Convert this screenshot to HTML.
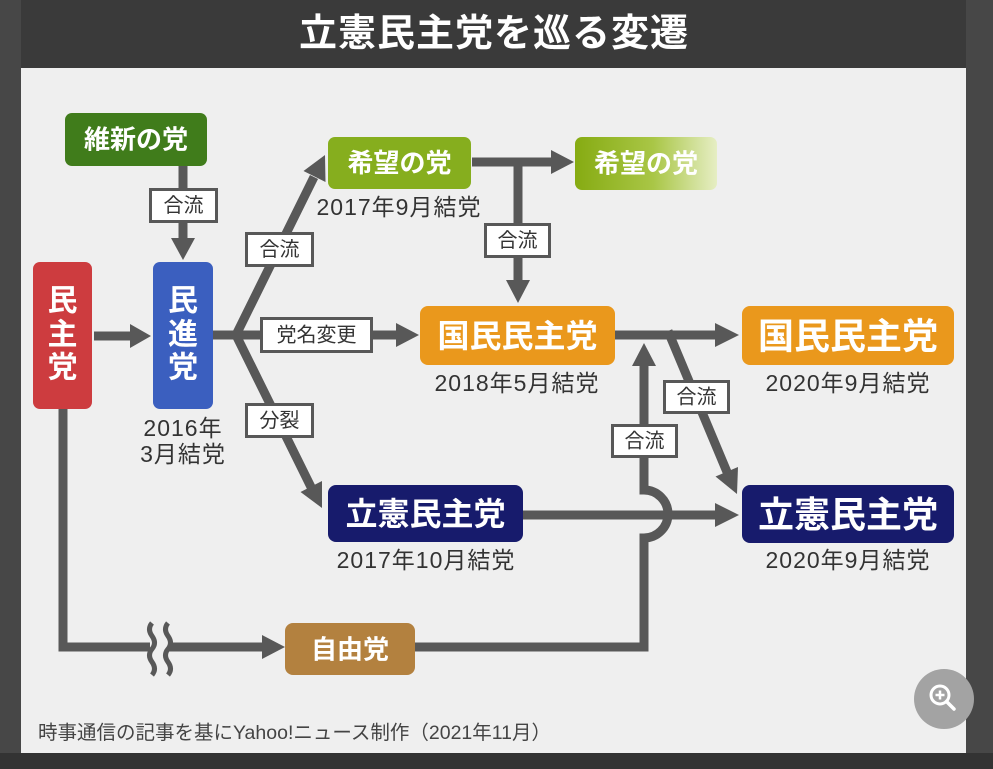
<!DOCTYPE html>
<html><head><meta charset="utf-8">
<style>
html,body{margin:0;padding:0;background:#474747;}
body{width:993px;height:769px;overflow:hidden;}
svg{display:block;}
text{font-family:"Liberation Sans","Noto Sans CJK JP",sans-serif;}
.nt{fill:#fff;font-weight:bold;text-anchor:middle;dominant-baseline:central;}
.dt{fill:#333;font-size:23px;letter-spacing:1px;text-anchor:middle;dominant-baseline:central;}
.lb{fill:#333;font-size:20px;text-anchor:middle;dominant-baseline:central;}
.bx{fill:#fff;stroke:#585858;stroke-width:3;}
.ln{stroke:#585858;stroke-width:9;fill:none;}
.ah{fill:#585858;}
</style></head>
<body>
<svg width="993" height="769" viewBox="0 0 993 769" xmlns="http://www.w3.org/2000/svg">
<defs>
<linearGradient id="kg" x1="0" y1="0" x2="1" y2="0">
<stop offset="0" stop-color="#86ab12"/>
<stop offset="0.55" stop-color="#a9c646"/>
<stop offset="1" stop-color="#e6eec4"/>
</linearGradient>
</defs>
<!-- background -->
<rect x="0" y="0" width="993" height="769" fill="#474747"/>
<rect x="21" y="0" width="945" height="68" fill="#3a3a3a"/>
<rect x="21" y="68" width="945" height="685" fill="#efefef"/>
<rect x="0" y="753" width="993" height="16" fill="#333"/>
<text x="494" y="34" class="nt" style="font-size:38px;letter-spacing:1px">立憲民主党を巡る変遷</text>

<!-- connectors -->
<line class="ln" x1="183" y1="165" x2="183" y2="240"/>
<polygon class="ah" points="171,238 195,238 183,260"/>
<line class="ln" x1="94" y1="336" x2="132" y2="336"/>
<polygon class="ah" points="130,324 130,348 151,336"/>
<line class="ln" x1="213" y1="335" x2="240" y2="335"/>
<polyline class="ln" points="314,177 236,335 311,487" stroke-linejoin="miter"/>
<polygon class="ah" points="325,155 325.5,182 303.5,171"/>
<polygon class="ah" points="322,508 322,481 300.5,492"/>
<line class="ln" x1="236" y1="335" x2="398" y2="335"/>
<polygon class="ah" points="396,323 396,347 419,335"/>
<line class="ln" x1="472" y1="162" x2="553" y2="162"/>
<polygon class="ah" points="551,150 551,174 574,162"/>
<line class="ln" x1="518" y1="162" x2="518" y2="282"/>
<polygon class="ah" points="506,280 530,280 518,303"/>
<line class="ln" x1="614" y1="335" x2="717" y2="335"/>
<polygon class="ah" points="715,323 715,347 739,335"/>
<line class="ln" x1="668" y1="331" x2="727" y2="472"/>
<polygon class="ah" points="737,494 738,467 715.5,476.5"/>
<line class="ln" x1="522" y1="515" x2="717" y2="515"/>
<polygon class="ah" points="715,503 715,527 739,515"/>
<polyline class="ln" points="63,409 63,647 150,647"/>
<line class="ln" x1="168" y1="647" x2="264" y2="647"/>
<polygon class="ah" points="262,635 262,659 285,647"/>
<path d="M152,623 q-5,6 0,13 t0,13 t0,13 t0,13" stroke="#585858" stroke-width="5" fill="none"/>
<path d="M168,623 q-5,6 0,13 t0,13 t0,13 t0,13" stroke="#585858" stroke-width="5" fill="none"/>
<path class="ln" d="M414,647 L644,647 L644,538 A24,24 0 0 0 644,490 L644,366"/>
<polygon class="ah" points="632,366 656,366 644,343"/>

<!-- label boxes -->
<rect class="bx" x="150.5" y="189.5" width="66" height="32"/>
<text class="lb" x="183.5" y="206">合流</text>
<rect class="bx" x="246.5" y="233.5" width="66" height="32"/>
<text class="lb" x="279.5" y="250">合流</text>
<rect class="bx" x="261.5" y="318.5" width="110" height="33"/>
<text class="lb" x="316.5" y="335.5">党名変更</text>
<rect class="bx" x="246.5" y="404.5" width="66" height="32"/>
<text class="lb" x="279.5" y="421">分裂</text>
<rect class="bx" x="485.5" y="224.5" width="64" height="32"/>
<text class="lb" x="517.5" y="241">合流</text>
<rect class="bx" x="664.5" y="381.5" width="64" height="31"/>
<text class="lb" x="696.5" y="397.5">合流</text>
<rect class="bx" x="612.5" y="425.5" width="64" height="31"/>
<text class="lb" x="644.5" y="441.5">合流</text>

<!-- nodes -->
<rect x="65" y="113" width="142" height="53" rx="7" fill="#407c1b"/>
<text class="nt" x="136" y="139.5" style="font-size:26px">維新の党</text>

<rect x="328" y="137" width="143" height="52" rx="7" fill="#86ae1e"/>
<text class="nt" x="399.5" y="163" style="font-size:26px">希望の党</text>
<text class="dt" x="399" y="207">2017年9月結党</text>

<rect x="575" y="137" width="142" height="53" rx="7" fill="url(#kg)"/>
<text class="nt" x="646" y="163.5" style="font-size:26px">希望の党</text>

<rect x="33" y="262" width="59" height="147" rx="7" fill="#cd3c3f"/>
<text class="nt" x="62.5" y="301" style="font-size:30px">民</text>
<text class="nt" x="62.5" y="335" style="font-size:30px">主</text>
<text class="nt" x="62.5" y="368" style="font-size:30px">党</text>

<rect x="153" y="262" width="60" height="147" rx="7" fill="#3b5fbf"/>
<text class="nt" x="183" y="301" style="font-size:30px">民</text>
<text class="nt" x="183" y="335" style="font-size:30px">進</text>
<text class="nt" x="183" y="368" style="font-size:30px">党</text>
<text class="dt" x="183" y="428">2016年</text>
<text class="dt" x="183" y="454">3月結党</text>

<rect x="420" y="306" width="195" height="59" rx="8" fill="#ea981c"/>
<text class="nt" x="517.5" y="336" style="font-size:32px">国民民主党</text>
<text class="dt" x="517" y="383">2018年5月結党</text>

<rect x="742" y="306" width="212" height="59" rx="8" fill="#ea981c"/>
<text class="nt" x="848" y="336" style="font-size:36px">国民民主党</text>
<text class="dt" x="848" y="383">2020年9月結党</text>

<rect x="328" y="485" width="195" height="57" rx="8" fill="#171b6c"/>
<text class="nt" x="425.5" y="514" style="font-size:32px">立憲民主党</text>
<text class="dt" x="426" y="560">2017年10月結党</text>

<rect x="742" y="485" width="212" height="58" rx="8" fill="#171b6c"/>
<text class="nt" x="848" y="514.5" style="font-size:36px">立憲民主党</text>
<text class="dt" x="848" y="560">2020年9月結党</text>

<rect x="285" y="623" width="130" height="52" rx="8" fill="#b3813f"/>
<text class="nt" x="350" y="649.5" style="font-size:26px">自由党</text>

<!-- footer -->
<text x="38" y="733" style="font-size:19.5px;fill:#444;dominant-baseline:central">時事通信の記事を基にYahoo!ニュース制作（2021年11月）</text>

<!-- zoom button -->
<circle cx="944" cy="699" r="30" fill="#a3a3a3"/>
<circle cx="940" cy="695" r="9" fill="none" stroke="#fff" stroke-width="3"/>
<line x1="946.5" y1="701.5" x2="954" y2="709" stroke="#fff" stroke-width="3.5" stroke-linecap="round"/>
<line x1="935.5" y1="695" x2="944.5" y2="695" stroke="#fff" stroke-width="2.5"/>
<line x1="940" y1="690.5" x2="940" y2="699.5" stroke="#fff" stroke-width="2.5"/>
</svg>
</body></html>
